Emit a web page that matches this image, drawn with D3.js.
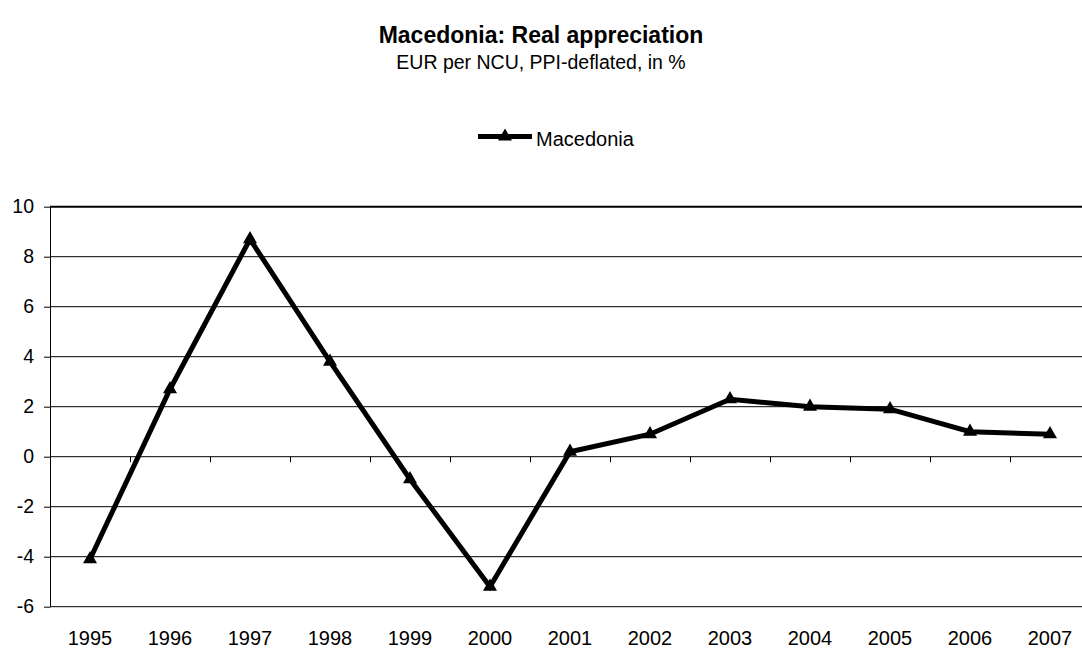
<!DOCTYPE html>
<html>
<head>
<meta charset="utf-8">
<script src="https://cdn.jsdelivr.net/npm/d3@7/dist/d3.min.js"></script>
<style>
  html, body { margin: 0; padding: 0; background: #fff; }
  svg { display: block; font-family: "Liberation Sans", Arial, sans-serif; }
</style>
</head>
<body>
<svg id="chart" width="1082" height="653"></svg>
<script>
const years = ["1995","1996","1997","1998","1999","2000","2001","2002","2003","2004","2005","2006","2007"];
const values = [-4.1, 2.7, 8.7, 3.8, -0.9, -5.2, 0.2, 0.9, 2.3, 2.0, 1.9, 1.0, 0.9];
const yTicks = [-6, -4, -2, 0, 2, 4, 6, 8, 10];
const seriesName = "Macedonia";
const titleText = "Macedonia: Real appreciation";
const subtitleText = "EUR per NCU, PPI-deflated, in %";

(function () {
const svg = d3.select("#chart");
const plotLeft = 50, plotTop = 206.7, bandW = 80, plotBottom = 606.7;
const plotRight = plotLeft + bandW * years.length;

const x = d3.scaleBand().domain(years).range([plotLeft, plotRight]).paddingInner(0).paddingOuter(0);
const y = d3.scaleLinear().domain([-6, 10]).range([plotBottom, plotTop]);

// Title
svg.append("text").attr("x", 541).attr("y", 43).attr("text-anchor", "middle")
  .attr("font-weight", "bold").attr("font-size", 23).text(titleText);
svg.append("text").attr("x", 541).attr("y", 69).attr("text-anchor", "middle")
  .attr("font-size", 19.5).text(subtitleText);

// Gridlines
svg.append("g").selectAll("line").data(yTicks).join("line")
  .attr("x1", plotLeft).attr("x2", plotRight)
  .attr("y1", d => y(d)).attr("y2", d => y(d))
  .attr("stroke", "#000")
  .attr("stroke-width", d => (d === 10 ? 2 : 1));

// Y axis
const yAxis = d3.axisLeft(y).tickValues(yTicks).tickSize(6.5).tickPadding(10).tickFormat(d => String(d));
const gy = svg.append("g").attr("transform", `translate(${plotLeft + 0.5},0)`).call(yAxis);
gy.select(".domain").remove();
gy.append("line").attr("x1", 0).attr("x2", 0).attr("y1", y(10)).attr("y2", y(-6)).attr("stroke", "#000");
gy.selectAll(".tick line").attr("stroke", "#000");
gy.selectAll(".tick text").attr("font-size", 19.5).attr("fill", "#000")
  .attr("font-family", "'Liberation Sans', Arial, sans-serif");

// X axis ticks at zero line, between categories
const zeroY = y(0);
const boundaries = d3.range(1, years.length).map(i => plotLeft + i * bandW);
svg.append("g").selectAll("line").data(boundaries).join("line")
  .attr("x1", d => d + 0.5).attr("x2", d => d + 0.5)
  .attr("y1", zeroY).attr("y2", zeroY + 5.5).attr("stroke", "#000");

// X labels at bottom
svg.append("g").selectAll("text").data(years).join("text")
  .attr("x", d => x(d) + x.bandwidth() / 2).attr("y", 645)
  .attr("text-anchor", "middle").attr("font-size", 20).text(d => d);

// Line
const pts = years.map((yr, i) => [x(yr) + x.bandwidth() / 2, y(values[i])]);
svg.append("path").datum(pts)
  .attr("d", d3.line())
  .attr("fill", "none").attr("stroke", "#000").attr("stroke-width", 5)
  .attr("stroke-linejoin", "miter");

const tri = d3.symbol().type(d3.symbolTriangle).size(85);
svg.append("g").selectAll("path").data(pts).join("path")
  .attr("transform", d => `translate(${d[0]},${d[1]})`)
  .attr("d", tri).attr("fill", "#000");

// Legend
const lg = svg.append("g");
const ly = 136.5;
lg.append("line").attr("x1", 478).attr("x2", 532).attr("y1", ly).attr("y2", ly)
  .attr("stroke", "#000").attr("stroke-width", 5);
lg.append("path").attr("transform", `translate(505,${ly})`).attr("d", tri).attr("fill", "#000");
lg.append("text").attr("x", 536).attr("y", 145.5).attr("font-size", 20).text(seriesName);
})();
</script>
</body>
</html>
